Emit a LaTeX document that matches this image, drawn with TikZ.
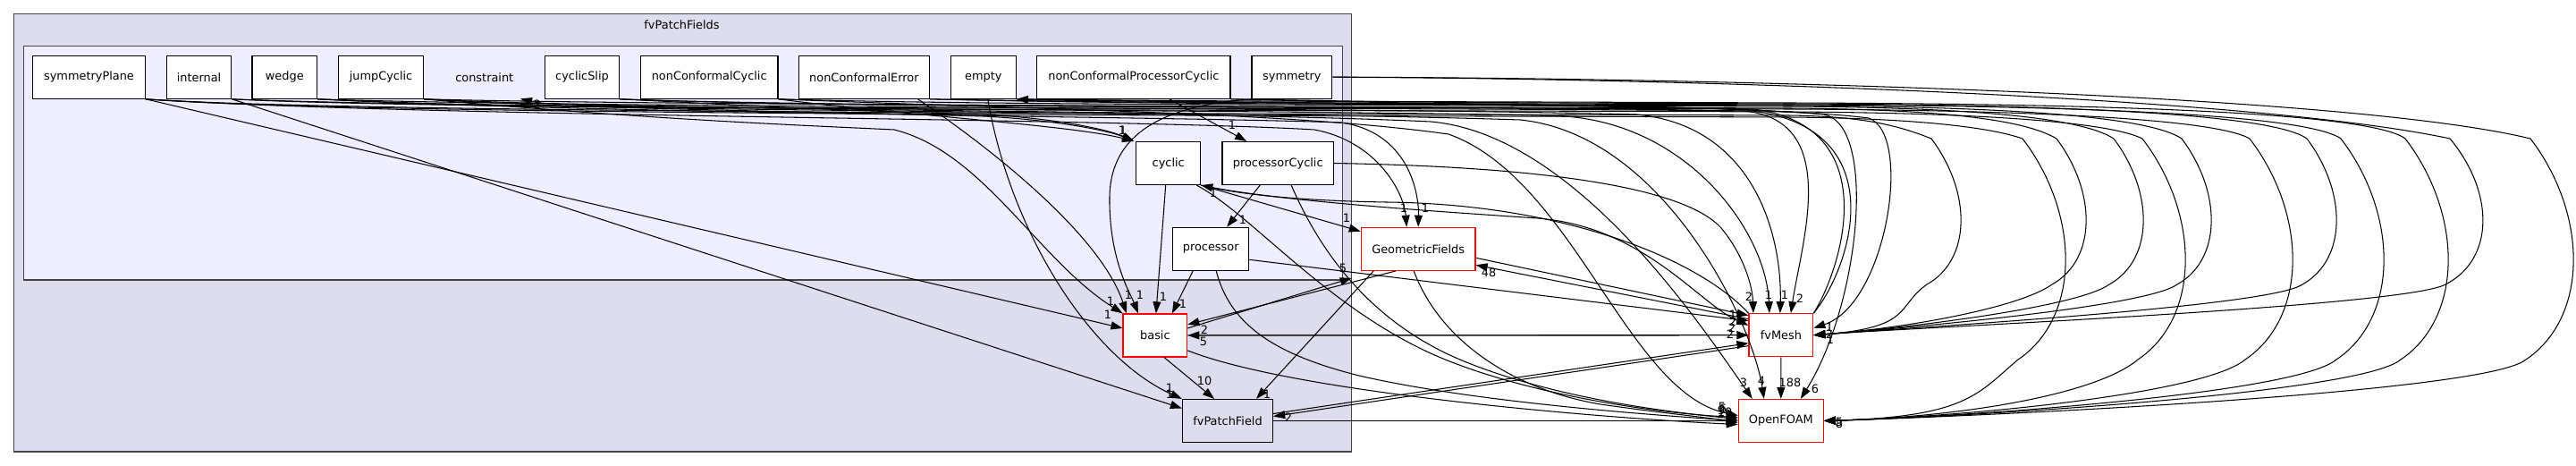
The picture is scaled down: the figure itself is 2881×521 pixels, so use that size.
\documentclass[tikz,border=0pt]{standalone}
\usepackage{fontspec}
\setmainfont{DejaVu Sans}
\usetikzlibrary{arrows.meta}
\definecolor{outerfill}{HTML}{DDDDEE}
\definecolor{innerfill}{HTML}{EEEEFF}
\definecolor{clusterline}{HTML}{444444}
\begin{document}
\begin{tikzpicture}[x=1pt,y=-1pt,
 dir/.style={draw=black, fill=white, line width=1.2pt, minimum height=48pt, inner sep=0pt, font=\fontsize{12.9}{15}\selectfont},
 rdir/.style={dir, draw=red},
 edge/.style={line width=1.05pt, black, -{Triangle[length=13pt,width=9pt]}},
 lbl/.style={inner sep=0pt, font=\fontsize{12.9}{15}\selectfont}]
\useasboundingbox (0,0) rectangle (2881,521);
\fill[white] (0,0) rectangle (2881,521);
\draw[draw=clusterline, fill=outerfill, line width=1.2pt] (15.3,15.3) rectangle (1511.7,505);
\node[lbl] (fvPatchFieldsLabel) at (762.5,28) {fvPatchFields};
\draw[draw=clusterline, fill=innerfill, line width=1.2pt] (26.5,51.7) rectangle (1501.5,313);

% nodes
\node[dir, minimum width=125.5pt] (SP) at (99.5,86.2) {symmetryPlane};
\node[dir, minimum width=72.5pt] (IN) at (222.5,86.2) {internal};
\node[dir, minimum width=72.6pt] (WE) at (318.3,86.2) {wedge};
\node[dir, minimum width=95pt] (JC) at (426,86.2) {jumpCyclic};
\node[lbl, minimum width=80pt, minimum height=48pt] (CON) at (541.8,86.2) {constraint};
\node[dir, minimum width=82.6pt] (CS) at (651,86.2) {cyclicSlip};
\node[dir, minimum width=153.7pt] (NCC) at (793.2,86.2) {nonConformalCyclic};
\node[dir, minimum width=146pt] (NCE) at (966.4,86.2) {nonConformalError};
\node[dir, minimum width=73pt] (EM) at (1099.8,86.2) {empty};
\node[dir, minimum width=216.3pt] (NCPC) at (1267.9,86.2) {nonConformalProcessorCyclic};
\node[dir, minimum width=89.8pt] (SY) at (1444.9,86.2) {symmetry};
\node[dir, minimum width=72pt] (CY) at (1306.7,182.5) {cyclic};
\node[dir, minimum width=124.3pt] (PC) at (1429.2,182.5) {processorCyclic};
\node[dir, minimum width=85pt] (PR) at (1354.2,278.3) {processor};
\node[rdir, minimum width=71.7pt] (BA) at (1291.9,374.9) {basic};
\node[dir, fill=outerfill, minimum width=101.1pt] (FPF) at (1373,470.5) {fvPatchField};
\node[rdir, minimum width=127.7pt] (GF) at (1586.2,278.3) {GeometricFields};
\node[rdir, minimum width=71.7pt] (FM) at (1991.9,374.7) {fvMesh};
\node[rdir, minimum width=95pt] (OF) at (1991.8,470.5) {OpenFOAM};

% loops on the right into fvMesh
\foreach \s/\ly/\px in {SP/127/2160, CS/119/2300, NCC/117/2364, NCE/116/2440, NCPC/114/2580}{
 \draw[edge] (\s.south east) .. controls +(250,{\ly-110}) and (1500,\ly) .. (2000,{\ly+2})
   .. controls ({1000+\px/2},{\ly+3}) and ({\px-40},{\ly+12}) .. (\px,155)
   .. controls ({\px+45},215) and ({\px+45},290) .. ({\px-5},318)
   .. controls ({\px-40},343) and (2140,366) .. (FM.east);
}
% loops on the right into OpenFOAM
\foreach \s/\ly/\px in {SP/129/2262, IN/123/2396, CS/120/2516, NCE/115/2618, EM/113/2690}{
 \draw[edge] (\s.south east) .. controls +(250,{\ly-110}) and (1500,\ly) .. (2000,{\ly+2})
   .. controls ({1000+\px/2},{\ly+3}) and ({\px-40},{\ly+12}) .. (\px,155)
   .. controls ({\px+65},240) and ({\px+65},355) .. ({\px-5},402)
   .. controls ({\px-50},440) and (2200,466) .. (OF.east);
}
% symmetry
\draw[edge] (SY.east) .. controls (1900,88) and (2520,108) .. (2740,155)
   .. controls (2790,215) and (2790,290) .. (2735,318)
   .. controls (2690,343) and (2140,366) .. (FM.east);
\draw[edge] (SY.east) .. controls (1900,87) and (2620,104) .. (2830,155)
   .. controls (2895,240) and (2895,355) .. (2825,402)
   .. controls (2780,440) and (2200,466) .. (OF.east);
\draw[edge] (SY.south west) .. controls (1300,118) and (1242,150) .. (1241,220)
   .. controls (1240,290) and (1265,330) .. ([xshift=-19pt]BA.north);

% into fvMesh from the top
\draw[edge] (PC.east) .. controls (1700,186) and (1880,205) .. (1925,255) .. controls (1950,285) and (1960,320) .. ([xshift=-31pt]FM.north);
\draw[edge] (IN.south east) .. controls +(300,12) and (1500,122) .. (1750,130) .. controls (1890,140) and (1975,260) .. ([xshift=-13pt]FM.north);
\draw[edge] (WE.south east) .. controls +(300,10) and (1550,120) .. (1830,128) .. controls (1960,140) and (1993,260) .. ([xshift=-1pt]FM.north);
\draw[edge] (JC.south east) .. controls +(300,8) and (1650,118) .. (1950,124) .. controls (2060,134) and (2015,270) .. ([xshift=11pt]FM.north);
\draw[edge] (EM.south east) .. controls +(300,6) and (1950,114) .. (2090,132) .. controls (2140,150) and (2110,340) .. ([yshift=8pt]FM.east);

% into OpenFOAM from the top
\draw[edge] (WE.south east) .. controls +(300,15) and (1300,122) .. (1600,136) .. controls (1760,150) and (1900,360) .. ([xshift=-32pt]OF.north);
\draw[edge] (JC.south east) .. controls +(300,14) and (1400,124) .. (1700,134) .. controls (1860,150) and (1960,360) .. ([xshift=-19pt]OF.north);
\draw[edge] (NCPC.south east) .. controls +(300,8) and (1900,116) .. (2040,128) .. controls (2100,140) and (2080,340) .. ([xshift=22pt]OF.north);
\draw[edge] (NCC.south east) .. controls +(300,12) and (1450,126) .. (1620,150) .. controls (1760,200) and (1820,440) .. ([yshift=6pt]OF.west);
\draw[edge] (FM.south) -- (OF.north);

% fvMesh back into constraint
\draw[edge] (FM.north east) .. controls (2060,300) and (2110,140) .. (1960,122) .. controls (1600,115) and (1180,113) .. (EM.south east);
\draw[edge] (FM.north east) .. controls (2070,300) and (2120,145) .. (1960,124) .. controls (1300,118) and (640,125) .. (CON.south east);
\draw[edge] (FM.north west) .. controls (1900,290) and (1750,228) .. (1550,226) .. controls (1430,224) and (1375,214) .. (CY.south east);

% into cyclic / processorCyclic / processor
\draw[edge] (NCC.south east) .. controls (1000,128) and (1200,140) .. ([xshift=-2pt]CY.north west);
\draw[edge] (CS.south east) .. controls +(200,10) and (900,122) .. (1100,128) .. controls (1180,132) and (1240,145) .. ([xshift=-2pt]CY.north west);
\draw[edge] (JC.south east) .. controls +(200,12) and (900,124) .. (1100,130) .. controls (1180,134) and (1240,146) .. ([xshift=-2pt]CY.north west);
\draw[edge] ([xshift=40pt]NCPC.south) -- ([xshift=-35pt]PC.north);
\draw[edge] ([xshift=-20pt]PC.south) -- ([xshift=18pt]PR.north);

% cyclic out
\draw[edge] ([xshift=-3pt]CY.south) -- ([xshift=1pt]BA.north);
\draw[edge] (CY.south east) -- ([yshift=-5pt]GF.north west);
\draw[edge] (CY.south east) .. controls (1420,224) and (1600,236) .. (1720,244) .. controls (1840,254) and (1900,340) .. ([yshift=11pt]FM.west);
\draw[edge] ([xshift=-5pt]CY.south east) .. controls (1400,240) and (1480,340) .. (1600,395) .. controls (1700,440) and (1850,462) .. ([yshift=4pt]OF.west);

% processorCyclic / processor out
\draw[edge] ([xshift=15pt]PC.south) .. controls (1480,290) and (1540,365) .. (1640,405) .. controls (1740,445) and (1860,460) .. ([yshift=2pt]OF.west);
\draw[edge] ([xshift=-20pt]PR.south) -- ([xshift=19pt]BA.north);
\draw[edge] ([yshift=-12pt]PR.east) -- ([yshift=16pt]FM.west);
\draw[edge] ([xshift=6pt]PR.south) .. controls (1375,360) and (1420,395) .. (1520,420) .. controls (1650,450) and (1850,464) .. (OF.west);

% into basic / fvPatchField from top row
\draw[edge] (SP.south east) -- ([yshift=8pt]BA.west);
\draw[edge] (IN.south east) -- ([yshift=14pt]FPF.west);
\draw[edge] ([xshift=5pt]EM.south) .. controls (1130,260) and (1220,400) .. (FPF.north west);
\draw[edge] (JC.south east) .. controls +(250,22) and (850,138) .. (1000,145) .. controls (1100,170) and (1160,290) .. (BA.north west);
\draw[edge] ([xshift=60pt]NCE.south) .. controls (1100,160) and (1230,260) .. ([xshift=-32pt]BA.north);
\draw[edge] (SP.south east) .. controls +(300,20) and (1250,132) .. (1470,145) .. controls (1540,158) and (1570,215) .. ([xshift=-13pt]GF.north);
\draw[edge] (WE.south east) .. controls +(300,16) and (1300,130) .. (1500,137) .. controls (1575,148) and (1587,215) .. (GF.north);

% basic
\draw[edge] (BA.east) -- (FM.west);
\draw[edge] (FM.west) -- (BA.east);
\draw[edge] ([yshift=8pt]BA.east) -- ([xshift=-10pt,yshift=-8pt]GF.south west);
\draw[edge] ([xshift=-25pt]GF.south) -- ([yshift=12pt]BA.east);
\draw[edge] ([xshift=10pt]BA.south) -- ([xshift=-15pt]FPF.north);
\draw[edge] ([yshift=-17pt]BA.east) .. controls (1450,440) and (1800,468) .. ([yshift=-4pt]OF.west);

% GeometricFields
\draw[edge] ([xshift=-50pt]GF.south) -- ([xshift=32pt]FPF.north);
\draw[edge] ([yshift=-10pt]GF.east) -- ([yshift=22pt]FM.west);
\draw[edge] ([yshift=18pt]FM.west) -- ([yshift=-18pt]GF.east);
\draw[edge] ([xshift=-5pt]GF.south) .. controls (1610,380) and (1690,435) .. (1790,452) .. controls (1860,462) and (1905,466) .. ([yshift=-2pt]OF.west);

% fvPatchField
\draw[edge] ([yshift=8pt]FPF.east) -- ([yshift=-9pt]FM.west);
\draw[edge] ([yshift=-12pt]FM.west) -- ([yshift=5pt]FPF.east);
\draw[edge] (FPF.east) -- (OF.west);

% labels
\node[lbl] (lCON) at (601,117) {2};
\node[lbl] (lCYa) at (1255,146) {1};
\node[lbl] (lCYb) at (1256,146) {1};
\node[lbl] (lPC) at (1378,140) {1};
\node[lbl] (lPR) at (1390,246) {1};
\node[lbl] (lGFw) at (1506,244) {1};
\node[lbl] (lCYe) at (1357,216) {1};
\node[lbl] (lGFt1) at (1570,233) {1};
\node[lbl] (lGFt2) at (1594,233) {1};
\node[lbl] (lGFb) at (1502,300) {5};
\node[lbl] (lBA2) at (1347,369) {2};
\node[lbl] (lBA5) at (1346,382) {5};
\node[lbl] (l48) at (1665,305) {48};
\node[lbl] (lBAa) at (1242,337) {1};
\node[lbl] (lBAb) at (1239,352) {1};
\node[lbl] (lBAc) at (1262,330) {1};
\node[lbl] (lBAd) at (1275,330) {1};
\node[lbl] (lBAe) at (1301,332) {1};
\node[lbl] (lBAf) at (1323,340) {1};
\node[lbl] (l10) at (1347,426) {10};
\node[lbl] (lFPFa) at (1308,434) {1};
\node[lbl] (lFPFb) at (1308,441) {1};
\node[lbl] (lFPFc) at (1417,441) {1};
\node[lbl] (lFPFd) at (1441,467) {2};
\node[lbl] (lFMt1) at (1956,332) {2};
\node[lbl] (lFMt2) at (1978,330) {1};
\node[lbl] (lFMt3) at (1996,330) {1};
\node[lbl] (lFMt4) at (2013,334) {2};
\node[lbl] (lFMl1) at (1938,352) {1};
\node[lbl] (lFMl2) at (1938,360) {2};
\node[lbl] (lFMl3) at (1937,367) {2};
\node[lbl] (lFMl4) at (1935,374) {2};
\node[lbl] (lFMr1) at (2046,366) {1};
\node[lbl] (lFMr2) at (2046,374) {2};
\node[lbl] (lFMr3) at (2047,380) {1};
\node[lbl] (lOFt1) at (1950,428) {3};
\node[lbl] (lOFt2) at (1970,426) {4};
\node[lbl] (lOFt3) at (2002,428) {188};
\node[lbl] (lOFt4) at (2030,435) {6};
\node[lbl] (lOFl1) at (1926,455) {5};
\node[lbl] (lOFl2) at (1925,459) {9};
\node[lbl] (lOFl3) at (1929,461) {10};
\node[lbl] (lOFl4) at (1927,457) {6};
\node[lbl] (lOFr1) at (2057,472) {5};
\node[lbl] (lOFr2) at (2057,474) {8};
\end{tikzpicture}
\end{document}
